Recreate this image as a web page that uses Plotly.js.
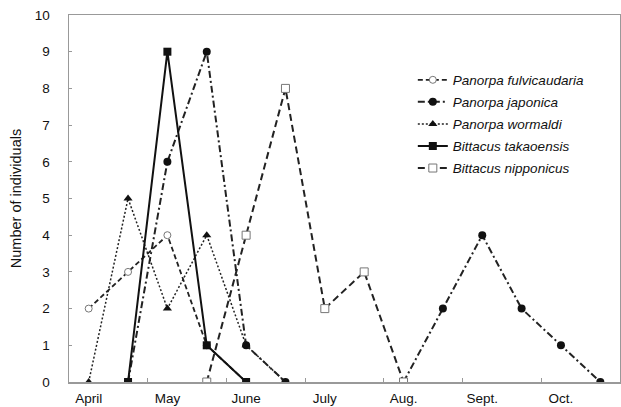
<!DOCTYPE html>
<html>
<head>
<meta charset="utf-8">
<script src="https://cdn.plot.ly/plotly-3.0.1.min.js"></script>
<style>html,body{margin:0;padding:0;background:#fff;}#chart{width:621px;height:407px;}</style>
</head>
<body>
<div id="chart"></div>
<script>
// Sampling occasions (twice a month, April to October)
const samples = [0,1,2,3,4,5,6,7,8,9,10,11,12,13];
const monthLabels = ["April","May","June","July","Aug.","Sept.","Oct."];
const monthTickPos = [0,2,4,6,8,10,12];
const monthBoundaries = [1.5,3.5,5.5,7.5,9.5,11.5];

const fulvicaudaria = [2,3,4,1,0,null,null,null,null,null,null,null,null,null];
const japonica      = [null,0,6,9,1,0,null,null,0,2,4,2,1,0];
const wormaldi      = [0,5,2,4,1,0,null,null,null,null,null,null,null,null];
const takaoensis    = [null,0,9,1,0,null,null,null,null,null,null,null,null,null];
const nipponicus    = [null,null,null,0,4,8,2,3,0,null,null,null,null,null];

const traces = [
  {name:"Panorpa fulvicaudaria", y:fulvicaudaria,
   line:{color:"#222",width:1.8,dash:"5px,3px"},
   marker:{symbol:"circle",size:7,color:"#fff",line:{color:"#777",width:1}}},
  {name:"Panorpa japonica", y:japonica,
   line:{color:"#222",width:2,dash:"7px,3px,2px,3px"},
   marker:{symbol:"circle",size:8,color:"#111"}},
  {name:"Panorpa wormaldi", y:wormaldi,
   line:{color:"#222",width:1.5,dash:"2px,2px"},
   marker:{symbol:"triangle-up",size:8,color:"#111"}},
  {name:"Bittacus takaoensis", y:takaoensis,
   line:{color:"#111",width:2,dash:"solid"},
   marker:{symbol:"square",size:8,color:"#111"}},
  {name:"Bittacus nipponicus", y:nipponicus,
   line:{color:"#222",width:2,dash:"7px,4px"},
   marker:{symbol:"square",size:8,color:"#fff",line:{color:"#777",width:1}}}
].map((t, i) => Object.assign({x:samples, type:"scatter", mode:"lines+markers", connectgaps:false, legendgroup:"g"+i}, t));

const layout = {
  width:621, height:407,
  margin:{l:69,r:1,t:15,b:25},
  paper_bgcolor:"#fff", plot_bgcolor:"#fff",
  font:{family:"Liberation Sans, Arial, sans-serif", size:13.5, color:"#111"},
  showlegend:true,
  legend:{x:0.624, y:0.865, xanchor:"left", yanchor:"top",
          font:{size:13.5, style:"italic"}, itemwidth:30, tracegroupgap:1.5,
          bgcolor:"rgba(0,0,0,0)"},
  xaxis:{range:[-0.5,13.5], tickmode:"array", tickvals:monthTickPos, ticktext:monthLabels,
         ticks:"", showgrid:false, zeroline:false,
         showline:true, linecolor:"#999", linewidth:1.5, mirror:true,
         ticklabelstandoff:3,
         minor:{tickmode:"array", tickvals:monthBoundaries, ticks:"inside", ticklen:4, tickcolor:"#999", tickwidth:1, showgrid:false},
         tickfont:{size:13.5}},
  yaxis:{range:[0,10], dtick:1, tick0:0, ticks:"inside", ticklen:3, tickcolor:"#999", tickwidth:1,
         showgrid:false, zeroline:false,
         showline:true, linecolor:"#999", linewidth:1.5, mirror:true,
         ticklabelstandoff:15,
         title:{text:"Number of individuals", font:{size:14.5}, standoff:9},
         tickfont:{size:13.5}}
};

Plotly.newPlot("chart", traces, layout, {displayModeBar:false, staticPlot:true});
</script>
</body>
</html>
